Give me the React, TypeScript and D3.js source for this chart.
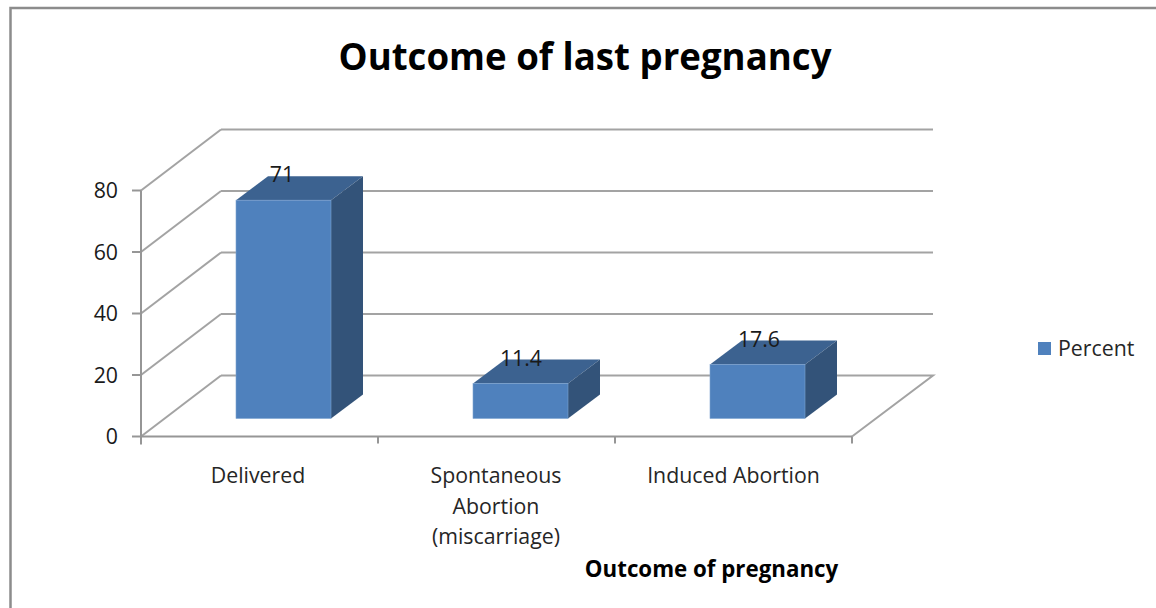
import React from "react";
import * as d3 from "d3";

const title = "Outcome of last pregnancy";
const xAxisTitle = "Outcome of pregnancy";
const seriesName = "Percent";
const categories = ["Delivered", "Spontaneous Abortion (miscarriage)", "Induced Abortion"];
const categoryLines = [["Delivered"], ["Spontaneous", "Abortion", "(miscarriage)"], ["Induced Abortion"]];
const percent = [71, 11.4, 17.6];
const yTicks = [0, 20, 40, 60, 80];

const W = 1156, H = 608;
const FONT = "'Open Sans', 'Noto Sans', sans-serif";
const GRID = "#a3a3a3";
const AXIS = "#969696";
const dx = 81, dy = -61; // floor depth
const barFront = { x: 24, y: -18 };
const barDepth = { x: 32, y: -24 };
const y = d3.scaleLinear().domain([0, 80]).range([436.5, 190.5]);
const x = d3.scaleBand<string>().domain(categories).range([141, 852]).paddingInner(0).paddingOuter(0);
const barW = 95;
const poly = (p: [number, number][]) => d3.line()(p)! + "Z";
const labelShift = [0, -4, -3];
const catShift = [-1.5, -0.5, 0];

export default function App() {
  const x0 = x.range()[0], x1 = x.range()[1];
  return (
    <svg width={W} height={H} style={{ position: "absolute", left: 0, top: 0, background: "#fff" }} fontFamily={FONT}>
      <path d={`M10.5,${H}V8H${W}`} fill="none" stroke="#8c8c8c" strokeWidth={2.5} />
      <text x={585} y={70} textAnchor="middle" fontSize={37} fontWeight={700} fill="#000" textLength={493} lengthAdjust="spacingAndGlyphs">{title}</text>

      {yTicks.map((t) => (
        <g key={t}>
          <path d={`M${x0},${y(t)}L${x0 + dx - 1},${y(t) + dy}`} stroke={GRID} strokeWidth={2} fill="none" />
          {t > 0 && <path d={`M${x0 + dx - 1},${y(t) + dy}H${x1 + dx}`} stroke={GRID} strokeWidth={2} fill="none" />}
          <path d={`M${x0 - 9},${y(t)}H${x0}`} stroke={AXIS} strokeWidth={2} />
          <text x={118} y={y(t) + 7.5} textAnchor="end" fontSize={21.3} fill="#1a1a1a">{t}</text>
        </g>
      ))}
      <path d={`M${x0 + dx - 1},${y(0) + dy}H${x1 + dx}L${x1},${y(0)}`} stroke={GRID} strokeWidth={2} fill="none" />
      <path d={`M${x0},${y(80)}V${y(0) + 8}`} stroke={AXIS} strokeWidth={2} fill="none" />
      <path d={`M${x0},${y(0)}H${x1}`} stroke={AXIS} strokeWidth={2} fill="none" />
      {[...categories.map((c) => x(c)!), x1].map((v, i) => (
        <path key={i} d={`M${v},${y(0)}V${y(0) + 7}`} stroke={AXIS} strokeWidth={2} />
      ))}

      {categories.map((c, i) => {
        const left = x(c)! + (x.bandwidth() - barW) / 2 + barFront.x;
        const right = left + barW;
        const bottom = y(0) + barFront.y;
        const top = bottom - (y(0) - y(percent[i]));
        const ddx = barDepth.x, ddy = barDepth.y;
        const cx = x(c)! + x.bandwidth() / 2;
        return (
          <g key={c}>
            <path d={poly([[left, top], [left + ddx, top + ddy], [right + ddx, top + ddy], [right, top]])} fill="#3c6290" />
            <path d={poly([[right, top], [right + ddx, top + ddy], [right + ddx, bottom + ddy], [right, bottom]])} fill="#335379" />
            <rect x={left} y={top} width={barW} height={bottom - top} fill="#4f81bd" stroke="#7ea3d0" strokeWidth={0.6} />
            <text x={left + ddx + 14 + (i === 0 ? 0 : 6) + labelShift[i]} y={top + ddy + 6 + (i === 0 ? 0 : 1)} textAnchor="middle" fontSize={21.3} fill="#1a1a1a">{percent[i]}</text>
            <text textAnchor="middle" fontSize={21.3} fill="#262626">
              {categoryLines[i].map((l, j) => (
                <tspan key={l} x={cx + catShift[i]} y={483 + j * 30.5}>{l}</tspan>
              ))}
            </text>
          </g>
        );
      })}

      <rect x={1038} y={342} width={13} height={13} fill="#4f81bd" />
      <text x={1058} y={356} fontSize={21.3} fill="#262626">{seriesName}</text>
      <text x={711.5} y={577} textAnchor="middle" fontSize={22.3} fontWeight={700} fill="#000">{xAxisTitle}</text>
    </svg>
  );
}
